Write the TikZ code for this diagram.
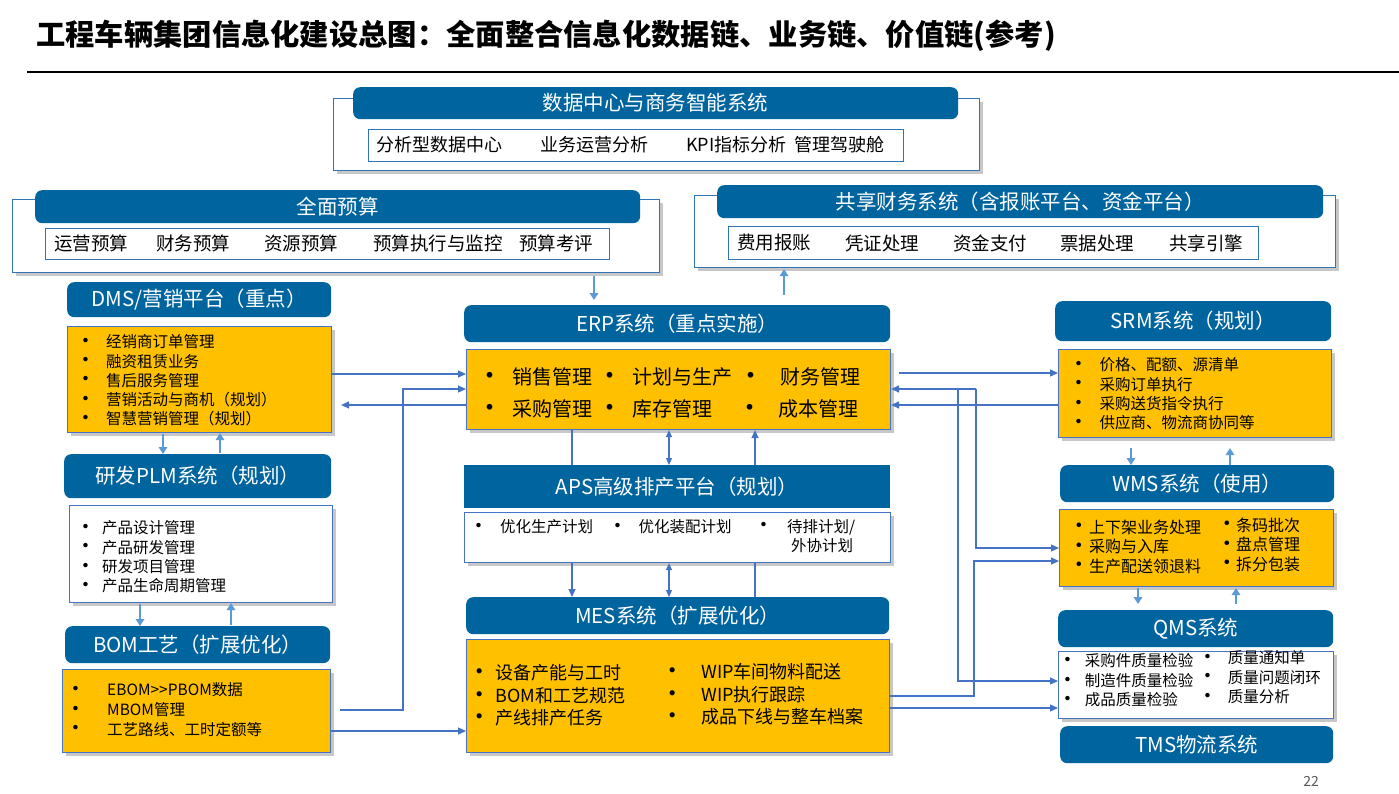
\documentclass[tikz,border=0pt]{standalone}
\usepackage{fontspec}
\setmainfont{Noto Sans CJK SC}
\usetikzlibrary{arrows.meta,shadows}
\definecolor{hdrblue}{RGB}{0,100,158}
\definecolor{boxyel}{RGB}{255,192,0}
\definecolor{bblue}{RGB}{68,114,196}
\definecolor{lblue}{RGB}{91,155,213}
\definecolor{oblue}{RGB}{46,117,182}
\newcommand\fsz[1]{\fontsize{#1}{#1}\selectfont}
\newcommand\bul[2]{\makebox[#1][l]{\makebox[0pt]{\raisebox{-0.04em}{\scalebox{1.35}{•}}}}#2}
\begin{document}
\begin{tikzpicture}[x=1pt,y=-1pt,
 hdr/.style={fill=hdrblue, rounded corners=7pt, text=white, font=\fsz{20.5}, anchor=north west, inner sep=0pt},
 hdrsq/.style={hdr, rounded corners=0pt},
 shd/.style={drop shadow={shadow xshift=3pt,shadow yshift=-3.5pt,opacity=0.22,fill=black}},
 obox/.style={draw=oblue, line width=1.1pt, fill=white, anchor=north west, inner sep=0pt, shd},
 ibox/.style={draw=oblue, line width=1.1pt, fill=white, anchor=north west, inner sep=0pt},
 ybox/.style={draw=bblue, line width=1.1pt, fill=boxyel, anchor=north west, inner sep=0pt, shd},
 wbox/.style={draw=bblue, line width=1.1pt, fill=white, anchor=north west, inner sep=0pt, shd},
 li/.style={anchor=west, inner sep=0pt},
 it/.style={li, font=\fsz{18.5}},
 conn/.style={draw=bblue, line width=1.2pt, -{Triangle[length=8pt,width=7pt]}},
 conn2/.style={draw=bblue, line width=1.2pt, {Triangle[length=7pt,width=6pt]}-{Triangle[length=7pt,width=6pt]}},
 plain/.style={draw=bblue, line width=1.2pt},
 fat/.style={draw=lblue, line width=2.8pt, -{Triangle[length=7pt,width=8.5pt]}}
]
\useasboundingbox[fill=white] (0,0) rectangle (1399,794);

% title
\node[anchor=west, inner sep=0pt, font=\fsz{29.3}\bfseries] (title) at (36,36) {工程车辆集团信息化建设总图：全面整合信息化数据链、业务链、价值链(参考)};
\draw[line width=1.3pt] (27,72) -- (1399,72);

% data center
\node[obox, minimum width=646pt, minimum height=72pt] (dcO) at (333,98) {};
\node[hdr, minimum width=605pt, minimum height=32pt] (dcH) at (353,87) {数据中心与商务智能系统};
\node[ibox, minimum width=535pt, minimum height=32pt] (dcI) at (368,129) {};
\node[it, font=\fsz{18}] (dc1) at (376,145) {分析型数据中心};
\node[it, font=\fsz{18}] (dc2) at (540,145) {业务运营分析};
\node[it, font=\fsz{18}] (dc3) at (686,145) {KPI指标分析};
\node[it, font=\fsz{18}] (dc4) at (794,145) {管理驾驶舱};

% budget
\node[obox, minimum width=647pt, minimum height=73pt] (qO) at (12,199) {};
\node[hdr, minimum width=605pt, minimum height=33pt] (qH) at (35,190) {全面预算};
\node[ibox, minimum width=564pt, minimum height=31pt] (qI) at (45,228) {};
\node[it] (q1) at (54,243) {运营预算};
\node[it] (q2) at (156,243) {财务预算};
\node[it] (q3) at (264,243) {资源预算};
\node[it] (q4) at (373,243) {预算执行与监控};
\node[it] (q5) at (519,243) {预算考评};

% shared finance
\node[obox, minimum width=641pt, minimum height=72pt] (gxO) at (694,195) {};
\node[hdr, minimum width=606pt, minimum height=33pt] (gxH) at (717,185) {共享财务系统（含报账平台、资金平台）};
\node[ibox, minimum width=530pt, minimum height=33pt] (gxI) at (728,226) {};
\node[it] (g1) at (737,243) {费用报账};
\node[it] (g2) at (845,243) {凭证处理};
\node[it] (g3) at (953,243) {资金支付};
\node[it] (g4) at (1060,243) {票据处理};
\node[it] (g5) at (1169,243) {共享引擎};

% DMS
\node[hdr, minimum width=264pt, minimum height=35pt] (dmsH) at (67,282) {DMS/营销平台（重点）};
\node[ybox, minimum width=264pt, minimum height=106pt] (dmsB) at (67,326) {};
\foreach \t [count=\i] in {经销商订单管理,融资租赁业务,售后服务管理,营销活动与商机（规划）,智慧营销管理（规划）}
  \node[li, font=\fsz{15.5}] (dms\i) at (86,{342+19.2*(\i-1)}) {\bul{20pt}{\t}};

% PLM
\node[hdr, minimum width=267pt, minimum height=44pt] (plmH) at (64,454) {研发PLM系统（规划）};
\node[wbox, minimum width=263pt, minimum height=97pt] (plmB) at (69,505) {};
\foreach \t [count=\i] in {产品设计管理,产品研发管理,研发项目管理,产品生命周期管理}
  \node[li, font=\fsz{15.5}] (plm\i) at (86,{528+19.3*(\i-1)}) {\bul{16pt}{\t}};

% BOM
\node[hdr, minimum width=265pt, minimum height=37pt] (bomH) at (65,626) {BOM工艺（扩展优化）};
\node[ybox, minimum width=268pt, minimum height=83pt] (bomB) at (62,669) {};
\node[li, font=\fsz{15.5}] (bom1) at (76,690) {\bul{31pt}{EBOM>{}>PBOM数据}};
\node[li, font=\fsz{15.5}] (bom2) at (76,709.7) {\bul{31pt}{MBOM管理}};
\node[li, font=\fsz{15.5}] (bom3) at (76,729.4) {\bul{31pt}{工艺路线、工时定额等}};

% ERP
\node[hdr, minimum width=426pt, minimum height=37pt] (erpH) at (464,305) {ERP系统（重点实施）};
\node[ybox, minimum width=424pt, minimum height=80pt] (erpB) at (466,349) {};
\node[li, font=\fsz{20}] (e1) at (490,377) {\bul{22pt}{销售管理}};
\node[li, font=\fsz{20}] (e2) at (610,377) {\bul{22pt}{计划与生产}};
\node[li, font=\fsz{20}] (e3) at (751,377) {\bul{29pt}{财务管理}};
\node[li, font=\fsz{20}] (e4) at (490,409) {\bul{22pt}{采购管理}};
\node[li, font=\fsz{20}] (e5) at (610,409) {\bul{22pt}{库存管理}};
\node[li, font=\fsz{20}] (e6) at (750,409) {\bul{28pt}{成本管理}};

% APS
\node[hdrsq, minimum width=426pt, minimum height=43pt] (apsH) at (464,465) {APS高级排产平台（规划）};
\node[wbox, minimum width=426pt, minimum height=50pt] (apsB) at (464,512) {};
\node[li, font=\fsz{15.5}] (a1) at (479,527) {\bul{21pt}{优化生产计划}};
\node[li, font=\fsz{15.5}] (a2) at (618,527) {\bul{20.5pt}{优化装配计划}};
\node[li, font=\fsz{15.5}] (a3) at (764,527) {\bul{23pt}{待排计划/}};
\node[li, font=\fsz{15.5}] (a4) at (791,546) {外协计划};

% MES
\node[hdr, minimum width=423pt, minimum height=37pt] (mesH) at (466,597) {MES系统（扩展优化）};
\node[ybox, minimum width=423pt, minimum height=113pt] (mesB) at (466,639) {};
\node[li, font=\fsz{18}] (m1) at (479,673) {\bul{16.5pt}{设备产能与工时}};
\node[li, font=\fsz{18}] (m2) at (479,695.5) {\bul{16.5pt}{BOM和工艺规范}};
\node[li, font=\fsz{18}] (m3) at (479,718) {\bul{16.5pt}{产线排产任务}};
\node[li, font=\fsz{18}] (m4) at (672,672) {\bul{29pt}{WIP车间物料配送}};
\node[li, font=\fsz{18}] (m5) at (672,694.5) {\bul{29pt}{WIP执行跟踪}};
\node[li, font=\fsz{18}] (m6) at (672,717) {\bul{29pt}{成品下线与整车档案}};

% SRM
\node[hdr, minimum width=276pt, minimum height=40pt] (srmH) at (1055,301) {SRM系统（规划）};
\node[ybox, minimum width=273pt, minimum height=88pt] (srmB) at (1058,349) {};
\foreach \t [count=\i] in {价格、配额、源清单,采购订单执行,采购送货指令执行,供应商、物流商协同等}
  \node[li, font=\fsz{15.5}] (srm\i) at (1079,{365+19.3*(\i-1)}) {\bul{20.5pt}{\t}};

% WMS
\node[hdr, minimum width=274pt, minimum height=37pt] (wmsH) at (1060,465) {WMS系统（使用）};
\node[ybox, minimum width=274pt, minimum height=77pt] (wmsB) at (1059,509) {};
\foreach \t [count=\i] in {上下架业务处理,采购与入库,生产配送领退料}
  \node[li, font=\fsz{16}] (wl\i) at (1079,{527+19.5*(\i-1)}) {\bul{10pt}{\t}};
\foreach \t [count=\i] in {条码批次,盘点管理,拆分包装}
  \node[li, font=\fsz{16}] (wr\i) at (1227,{525+19.5*(\i-1)}) {\bul{9pt}{\t}};

% QMS
\node[hdr, minimum width=275pt, minimum height=37pt] (qmsH) at (1058,610) {QMS系统};
\node[wbox, minimum width=275pt, minimum height=67pt] (qmsB) at (1058,651) {};
\foreach \t [count=\i] in {采购件质量检验,制造件质量检验,成品质量检验}
  \node[li, font=\fsz{15.5}] (ql\i) at (1068,{661+19.5*(\i-1)}) {\bul{16.6pt}{\t}};
\foreach \t [count=\i] in {质量通知单,质量问题闭环,质量分析}
  \node[li, font=\fsz{15.5}] (qr\i) at (1208,{658+19.5*(\i-1)}) {\bul{19.6pt}{\t}};

% TMS
\node[hdr, minimum width=273pt, minimum height=37pt] (tmsH) at (1060,726) {TMS物流系统};

\node[font=\fsz{14}, text=black!65, inner sep=0pt] (pg) at (1311,781) {22};

% thick arrows
\draw[fat, shorten <=3pt, shorten >=5pt] (qO.south -| 594,0) -- (erpH.north -| 594,0);
\draw[fat, shorten <=10pt, shorten >=1pt] (erpH.north -| 784,0) -- (gxO.south -| 784,0);
\draw[fat, shorten <=1pt] (dmsB.south -| 163,0) -- (plmH.north -| 163,0);
\draw[fat, shorten <=1pt] (plmH.north -| 220,0) -- (dmsB.south -| 220,0);
\draw[fat, shorten <=1pt] (plmB.south -| 140,0) -- (bomH.north -| 140,0);
\draw[fat, shorten <=1pt] (bomH.north -| 231,0) -- (plmB.south -| 231,0);
\draw[fat, shorten <=10pt] (srmB.south -| 1131,0) -- (wmsH.north -| 1131,0);
\draw[fat, shorten >=10pt] (wmsH.north -| 1230,0) -- (srmB.south -| 1230,0);
\draw[fat, shorten <=1pt, shorten >=6pt] (wmsB.south -| 1138,0) -- (qmsH.north -| 1138,0);
\draw[fat, shorten <=6pt, shorten >=1pt] (qmsH.north -| 1236,0) -- (wmsB.south -| 1236,0);

% thin connectors, left
\draw[conn] (dmsB.east |- 0,374) -- (erpB.west |- 0,374);
\draw[conn, shorten >=9pt] (erpB.west |- 0,405) -- (dmsB.east |- 0,405);
\draw[conn, shorten <=9pt] (bomB.east |- 0,710) -| (403,389) -- (erpB.west |- 0,389);
\draw[conn] (bomB.east |- 0,731) -- (mesB.west |- 0,731);

% thin connectors, right
\draw[conn, shorten <=8pt] (erpB.east |- 0,373) -- (srmB.west |- 0,373);
\draw[conn] (srmB.west |- 0,405) -- (erpB.east |- 0,405);
\coordinate (jw) at (976,389);
\coordinate (jq) at (958,389);
\draw[conn] (jw) -- (erpB.east |- jw);
\draw[conn] (jw) |- (wmsB.west |- 0,548);
\draw[conn] (jq) |- (qmsB.west |- 0,681);
\draw[conn] (mesB.east |- 0,696) -| (974,561) -- (wmsB.west |- 0,561);
\draw[conn] (mesB.east |- 0,708) -- (qmsB.west |- 0,708);

% ERP - APS - MES
\draw[plain] (erpB.south -| 572,0) -- (apsH.north -| 572,0);
\draw[conn] (apsB.south -| 572,0) -- (mesH.north -| 572,0);
\draw[conn2] (erpB.south -| 669,0) -- (apsH.north -| 669,0);
\draw[conn2] (apsB.south -| 669,0) -- (mesH.north -| 669,0);
\draw[plain] (mesH.north -| 755,0) -- (apsB.south -| 755,0);
\draw[conn] (apsH.north -| 755,0) -- (erpB.south -| 755,0);
\end{tikzpicture}
\end{document}
